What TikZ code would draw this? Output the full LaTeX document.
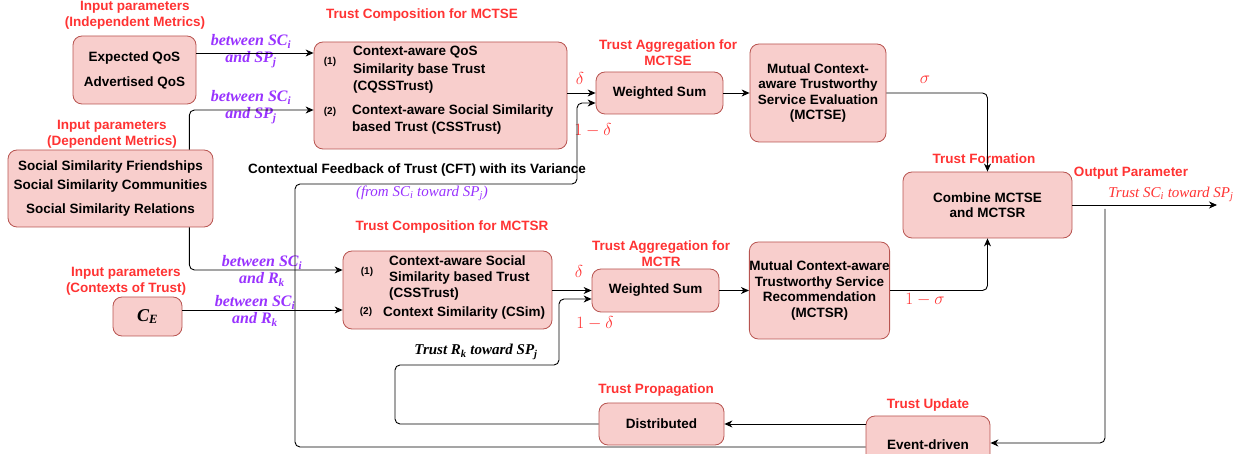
\documentclass[tikz,border=0pt]{standalone}
\usepackage[no-math]{fontspec}
\setmainfont{Liberation Sans}
\newfontfamily\tnr{Liberation Serif}
\usetikzlibrary{arrows.meta}
\definecolor{boxfill}{HTML}{F8CECC}
\definecolor{boxline}{HTML}{B85450}
\definecolor{ttlred}{HTML}{FF3333}
\definecolor{purp}{HTML}{9933FF}

\begin{document}
\begin{tikzpicture}[x=1pt,y=-1pt,
    box/.style={draw=boxline, fill=boxfill, rounded corners=9pt, line width=0.8pt, inner sep=0pt},
    txt/.style={font=\bfseries\fontsize{13.5}{16}\selectfont, align=center, inner sep=0pt},
    inner/.style={txt, align=left, anchor=west, font=\bfseries\fontsize{13.5}{17.5}\selectfont},
    ttl/.style={txt, text=ttlred},
    num/.style={font=\bfseries\fontsize{10}{12}\selectfont, inner sep=0pt},
    pur/.style={text=purp, font=\tnr\bfseries\itshape\fontsize{16}{17}\selectfont, align=center, inner sep=0pt},
    ital/.style={font=\tnr\itshape\fontsize{15}{16}\selectfont, inner sep=0pt},
    greek/.style={text=ttlred, font=\fontsize{16}{18}\selectfont, inner sep=0pt},
    arr/.style={-{Stealth[length=8pt,width=7pt,inset=2.5pt]}, line width=0.9pt}]
    \useasboundingbox (0,0) rectangle (1254,454);
    \clip (0,0) rectangle (1254,454);

    \node [box, txt, minimum width=123pt, minimum height=68pt] (qos) at (134.5,70) {Expected QoS\\[9pt]Advertised QoS};
    \node [box, txt, minimum width=205pt, minimum height=77pt] (social) at (110.5,188.5) {Social Similarity Friendships\\[3pt]Social Similarity Communities\\[8pt]Social Similarity Relations};
    \node [box, minimum width=69pt, minimum height=39pt, font=\tnr\bfseries\itshape\fontsize{18}{20}\selectfont] (ce) at (147.5,316.5) {C\textsubscript{E}};

    \node [box, minimum width=253pt, minimum height=107pt] (compse) at (440.5,95.5) {};
    \node [num] (compse1) at (330,62) {(1)};
    \node [inner] (cqss) at (353,70) {Context-aware QoS\\Similarity base Trust\\(CQSSTrust)};
    \node [num] (compse2) at (330,112) {(2)};
    \node [inner] (css) at (352,119.5) {Context-aware Social Similarity\\based Trust (CSSTrust)};

    \node [box, minimum width=209pt, minimum height=78pt] (compsr) at (447.5,290) {};
    \node [num] (compsr1) at (367,272) {(1)};
    \node [inner, font=\bfseries\fontsize{13.5}{16}\selectfont] (cssr) at (389,278) {Context-aware Social\\Similarity based Trust\\(CSSTrust)};
    \node [num] (compsr2) at (366,312) {(2)};
    \node [inner] (csim) at (383,313) {Context Similarity (CSim)};

    \node [box, txt, minimum width=127pt, minimum height=42pt] (wsse) at (659.5,93) {Weighted Sum};
    \node [box, txt, minimum width=127pt, minimum height=43pt] (wssr) at (655.5,290.5) {Weighted Sum};
    \node [box, txt, minimum width=136pt, minimum height=98pt, font=\bfseries\fontsize{13.5}{15.5}\selectfont] (mctse) at (818,93) {Mutual Context-\\aware Trustworthy\\Service Evaluation\\(MCTSE)};
    \node [box, txt, minimum width=135pt, minimum height=97pt, font=\bfseries\fontsize{13.5}{15.5}\selectfont] (mctsr) at (819.5,290.5) {Mutual Context-aware\\Trustworthy Service\\Recommendation\\(MCTSR)};
    \node [box, txt, minimum width=169pt, minimum height=66pt, font=\bfseries\fontsize{13.5}{15}\selectfont] (combine) at (987.5,205) {Combine MCTSE\\and MCTSR};
    \node [box, txt, minimum width=125pt, minimum height=42pt] (distrib) at (661.5,424) {Distributed};
    \node [box, txt, minimum width=124pt, minimum height=58pt] (event) at (928,445) {Event-driven};

    \node [ttl] (tindep) at (135,15) {Input parameters\\(Independent Metrics)};
    \node [ttl] (tdep) at (112,134) {Input parameters\\(Dependent Metrics)};
    \node [ttl] (tctx) at (126,281) {Input parameters\\(Contexts of Trust)};
    \node [ttl] (tcompse) at (422,15) {Trust Composition for MCTSE};
    \node [ttl] (taggse) at (668,53) {Trust Aggregation for\\MCTSE};
    \node [ttl] (tform) at (984,159) {Trust Formation};
    \node [ttl] (tout) at (1131,173) {Output Parameter};
    \node [ttl] (tcompsr) at (452,227) {Trust Composition for MCTSR};
    \node [ttl] (taggsr) at (661,254) {Trust Aggregation for\\MCTR};
    \node [ttl] (tprop) at (656,390) {Trust Propagation};
    \node [ttl] (tupd) at (928,405) {Trust Update};
    \node [txt] (tcft) at (417,170) {Contextual Feedback of Trust (CFT) with its Variance};

    \node [pur] (lab1) at (251,51) {between SC\textsubscript{i}\\and SP\textsubscript{j}};
    \node [pur] (lab2) at (251,107) {between SC\textsubscript{i}\\and SP\textsubscript{j}};
    \node [pur] (lab3) at (262,271) {between SC\textsubscript{i}\\and R\textsubscript{k}};
    \node [pur] (lab4) at (255,311) {between SC\textsubscript{i}\\and R\textsubscript{k}};
    \node [ital, text=purp] (lfrom) at (422,193) {(from SC\textsubscript{i} toward SP\textsubscript{j})};
    \node [ital, font=\tnr\bfseries\itshape\fontsize{15}{16}\selectfont] (lrk) at (476,352) {Trust R\textsubscript{k} toward SP\textsubscript{j}};
    \node [ital, text=ttlred] (ltrust) at (1171,194) {Trust SC\textsubscript{i} toward SP\textsubscript{j}};

    \node [greek] (d1) at (580,79) {$\delta$};
    \node [greek] (d2) at (593,130) {$1-\delta$};
    \node [greek] (d3) at (579,272) {$\delta$};
    \node [greek] (d4) at (595,323) {$1-\delta$};
    \node [greek] (s1) at (925,80) {$\sigma$};
    \node [greek] (s2) at (925,300) {$1-\sigma$};

    \coordinate (q1) at ([yshift=17pt]qos.east);
    \draw [arr] (q1) -- (q1 -| compse.west);
    \coordinate (p1) at ([xshift=-24pt]social.north east);
    \coordinate (p2) at ([yshift=-14.5pt]compse.west);
    \draw [arr, rounded corners=5pt] (p1) |- (p2);
    \coordinate (p3) at ([xshift=-24pt]social.south east);
    \coordinate (p4) at ([yshift=20pt]compsr.west);
    \draw [arr, rounded corners=5pt] (p3) |- (p4);
    \coordinate (e1) at ([yshift=-20pt]compsr.west);
    \draw [arr] (ce.east |- e1) -- (e1);
    \draw [arr] (compse.east |- wsse.west) -- (wsse.west);
    \draw [arr] (wsse.east) -- (mctse.west);
    \draw [arr, rounded corners=5pt] (mctse.east) -| (combine.north);
    \draw [arr] (compsr.east |- wssr.west) -- (wssr.west);
    \draw [arr] (wssr.east) -- (mctsr.west);
    \draw [arr, rounded corners=5pt] (mctsr.east) -| (combine.south);
    \coordinate (out) at (1217,205);
    \draw [arr] (combine.east) -- (out);
    \coordinate (o1) at (1105,209);
    \coordinate (o2) at ([yshift=2pt]event.east);
    \draw [arr, rounded corners=5pt] (o1) |- (o2);
    \draw [arr] ([yshift=21pt]event.west) -- (distrib.east);
    \coordinate (f1) at ([yshift=-2pt]event.west);
    \coordinate (f2) at (295,184);
    \coordinate (f3) at (577,184);
    \coordinate (f4) at ([yshift=-10pt]wsse.west);
    \draw [arr, rounded corners=5pt] (f1) -| (f2) -- (f3) |- (f4);
    \coordinate (r1) at (395,365);
    \coordinate (r2) at (559,365);
    \coordinate (r3) at ([yshift=-8.5pt]wssr.west);
    \draw [arr, rounded corners=5pt] (distrib.west) -| (r1) -- (r2) |- (r3);
\end{tikzpicture}
\end{document}
